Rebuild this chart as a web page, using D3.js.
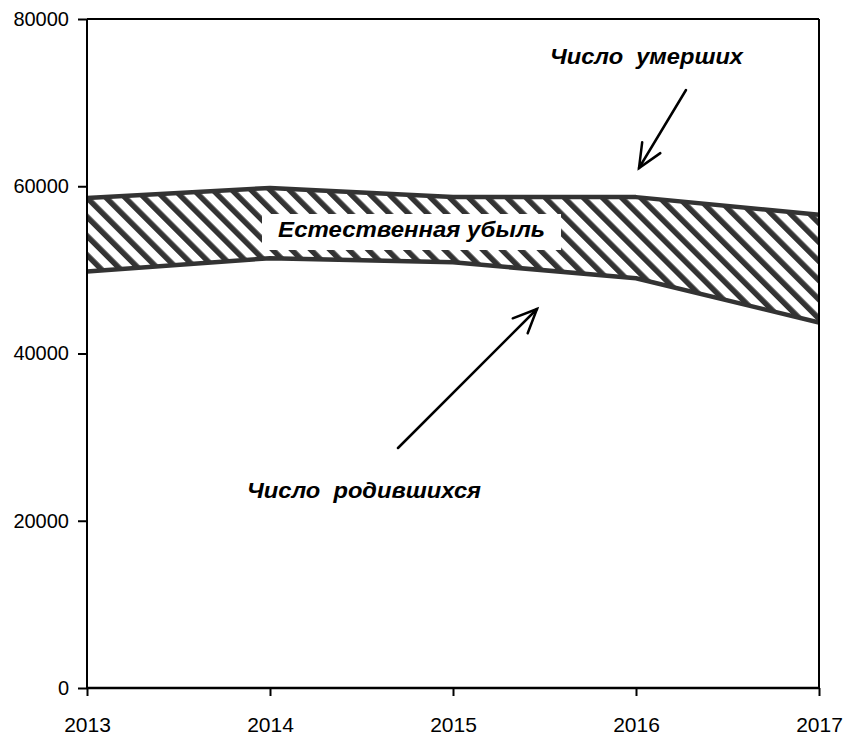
<!DOCTYPE html>
<html>
<head>
<meta charset="utf-8">
<script src="https://cdn.jsdelivr.net/npm/d3@7"></script>
<style>
  html, body { margin: 0; padding: 0; background: #fff; }
  svg { display: block; }
  text { font-family: "Liberation Sans", Arial, sans-serif; fill: #000; }
</style>
</head>
<body>
<svg id="chart" width="847" height="736"></svg>
<script>
const years = [2013, 2014, 2015, 2016, 2017];
const deaths = [58600, 59800, 58700, 58700, 56600];
const births = [49800, 51400, 50900, 49000, 43700];
const yTicks = [0, 20000, 40000, 60000, 80000];
const labelDeaths = "Число  умерших";
const labelBirths = "Число  родившихся";
const labelLoss = "Естественная убыль";

(function () {
const svg = d3.select("#chart");
const pL = 87, pR = 819, pT = 19, pB = 688;

const x = d3.scaleLinear().domain([2013, 2017]).range([pL, pR]);
const y = d3.scaleLinear().domain([0, 80000]).range([pB, pT]);

// hatch pattern
const defs = svg.append("defs");
const pat = defs.append("pattern")
  .attr("id", "hatch")
  .attr("patternUnits", "userSpaceOnUse")
  .attr("width", 13.5).attr("height", 13.5)
  .attr("patternTransform", "rotate(-45)");
pat.append("rect").attr("x", 0).attr("y", 0).attr("width", 13.5).attr("height", 13.5).attr("fill", "#fff");
pat.append("rect").attr("x", 0).attr("y", 0).attr("width", 5.5).attr("height", 13.5).attr("fill", "#333");

const data = years.map((yr, i) => ({ yr, d: deaths[i], b: births[i] }));

const area = d3.area()
  .x(p => x(p.yr))
  .y0(p => y(p.b))
  .y1(p => y(p.d));

svg.append("path").datum(data).attr("d", area).attr("fill", "url(#hatch)");

// label box
const loss = svg.append("g");
loss.append("rect")
  .attr("x", 262).attr("y", 214).attr("width", 299).attr("height", 36)
  .attr("fill", "#fff");
loss.append("text")
  .attr("x", 278).attr("y", 237)
  .attr("font-size", 22).attr("font-weight", "bold").attr("font-style", "italic")
  .attr("textLength", 267).attr("lengthAdjust", "spacingAndGlyphs")
  .text(labelLoss);

// lines
const lineD = d3.line().x(p => x(p.yr)).y(p => y(p.d));
const lineB = d3.line().x(p => x(p.yr)).y(p => y(p.b));
svg.append("path").datum(data).attr("d", lineD)
  .attr("fill", "none").attr("stroke", "#333").attr("stroke-width", 4.5).attr("stroke-linejoin", "round");
svg.append("path").datum(data).attr("d", lineB)
  .attr("fill", "none").attr("stroke", "#333").attr("stroke-width", 4.5).attr("stroke-linejoin", "round");

// frame (top and right)
svg.append("line").attr("x1", pL).attr("x2", pR).attr("y1", pT).attr("y2", pT)
  .attr("stroke", "#000").attr("stroke-width", 2);
svg.append("line").attr("x1", pR).attr("x2", pR).attr("y1", pT).attr("y2", pB)
  .attr("stroke", "#000").attr("stroke-width", 2);

// axes
const yAxis = d3.axisLeft(y).tickValues(yTicks).tickSize(9).tickPadding(9).tickFormat(d3.format("d"));
const gy = svg.append("g").attr("transform", `translate(${pL},0)`).call(yAxis);
gy.select(".domain").attr("stroke", "#000").attr("stroke-width", 2).attr("d", `M0,${pT}V${pB}`);
gy.selectAll(".tick line").attr("stroke", "#000").attr("stroke-width", 2);
gy.selectAll(".tick text").attr("font-size", 20).attr("font-family", "Liberation Sans, Arial, sans-serif").attr("fill", "#000");

const xAxis = d3.axisBottom(x).tickValues(years).tickSize(8).tickPadding(21).tickFormat(d3.format("d"));
const gx = svg.append("g").attr("transform", `translate(0,${pB})`).call(xAxis);
gx.select(".domain").attr("stroke", "#000").attr("stroke-width", 2.5).attr("d", `M${pL},0H${pR}`);
gx.selectAll(".tick line").attr("stroke", "#000").attr("stroke-width", 2);
gx.selectAll(".tick text").attr("font-size", 21).attr("font-family", "Liberation Sans, Arial, sans-serif").attr("fill", "#000");

// annotations
svg.append("text")
  .attr("x", 550).attr("y", 64)
  .attr("font-size", 22).attr("font-weight", "bold").attr("font-style", "italic")
  .attr("textLength", 193).attr("lengthAdjust", "spacingAndGlyphs")
  .attr("xml:space", "preserve").style("white-space", "pre")
  .text(labelDeaths);
svg.append("text")
  .attr("x", 247).attr("y", 498)
  .attr("font-size", 22).attr("font-weight", "bold").attr("font-style", "italic")
  .attr("textLength", 234).attr("lengthAdjust", "spacingAndGlyphs")
  .attr("xml:space", "preserve").style("white-space", "pre")
  .text(labelBirths);

function arrow(x1, y1, x2, y2) {
  const g = svg.append("g").attr("stroke", "#000").attr("stroke-width", 2.5).attr("fill", "none").attr("stroke-linecap", "round");
  g.append("line").attr("x1", x1).attr("y1", y1).attr("x2", x2).attr("y2", y2);
  const ang = Math.atan2(y1 - y2, x1 - x2);
  const len = 26, spread = 24 * Math.PI / 180;
  const pts = [
    [x2 + len * Math.cos(ang + spread), y2 + len * Math.sin(ang + spread)],
    [x2, y2],
    [x2 + len * Math.cos(ang - spread), y2 + len * Math.sin(ang - spread)]
  ];
  g.append("path").attr("d", d3.line()(pts)).attr("stroke-linejoin", "miter");
}
arrow(686, 90, 639, 168);
arrow(398, 448, 537, 309);
})();
</script>
</body>
</html>
